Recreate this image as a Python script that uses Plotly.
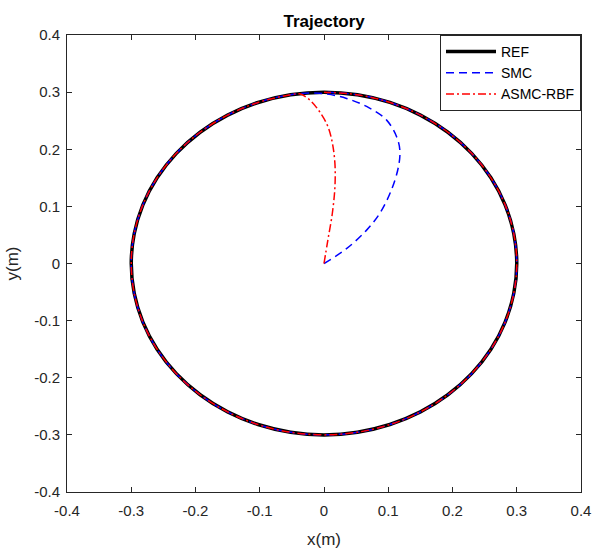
import plotly.graph_objects as go

# Reference circle (radius 0.3 m), starting at top, counter-clockwise
circle_x = [0.0, -0.0521, -0.1026, -0.150, -0.1928, -0.2298, -0.2598, -0.2819, -0.2954, -0.300,
            -0.2954, -0.2819, -0.2598, -0.2298, -0.1928, -0.150, -0.1026, -0.0521, 0.0,
            0.0521, 0.1026, 0.150, 0.1928, 0.2298, 0.2598, 0.2819, 0.2954, 0.300,
            0.2954, 0.2819, 0.2598, 0.2298, 0.1928, 0.150, 0.1026, 0.0521, 0.0]
circle_y = [0.300, 0.2954, 0.2819, 0.2598, 0.2298, 0.1928, 0.150, 0.1026, 0.0521, 0.0,
            -0.0521, -0.1026, -0.150, -0.1928, -0.2298, -0.2598, -0.2819, -0.2954, -0.300,
            -0.2954, -0.2819, -0.2598, -0.2298, -0.1928, -0.150, -0.1026, -0.0521, 0.0,
            0.0521, 0.1026, 0.150, 0.1928, 0.2298, 0.2598, 0.2819, 0.2954, 0.300]

# SMC transient from origin to the circle
smc_x = [0.0, 0.035, 0.066, 0.087, 0.105, 0.116, 0.118, 0.113, 0.0975, 0.071, 0.035, -0.007]
smc_y = [0.0, 0.026, 0.058, 0.088, 0.129, 0.170, 0.199, 0.222, 0.251, 0.272, 0.289, 0.298]

# ASMC-RBF transient from origin to the circle
asmc_x = [0.0, 0.006, 0.013, 0.017, 0.017, 0.013, 0.006, -0.007, -0.022, -0.038]
asmc_y = [0.0, 0.041, 0.088, 0.134, 0.175, 0.211, 0.240, 0.266, 0.286, 0.297]

tick_vals = [-0.4, -0.3, -0.2, -0.1, 0, 0.1, 0.2, 0.3, 0.4]
tick_text = ["-0.4", "-0.3", "-0.2", "-0.1", "0", "0.1", "0.2", "0.3", "0.4"]

ink = "#262626"
font_family = "Liberation Sans, Arial, sans-serif"

fig = go.Figure()
fig.add_trace(go.Scatter(x=circle_x, y=circle_y, mode="lines", name="REF",
                         line=dict(color="black", width=3.5, shape="spline")))
fig.add_trace(go.Scatter(x=smc_x + circle_x[1:], y=smc_y + circle_y[1:], mode="lines", name="SMC",
                         line=dict(color="#0000ff", width=1.5, dash="8px,5px", shape="spline")))
fig.add_trace(go.Scatter(x=asmc_x + circle_x[1:], y=asmc_y + circle_y[1:], mode="lines", name="ASMC-RBF",
                         line=dict(color="#ff0000", width=1.5, dash="8px,3px,2px,3px", shape="spline")))

axis_common = dict(
    tickmode="array", tickvals=tick_vals, ticktext=tick_text,
    range=[-0.4, 0.4], showgrid=False, zeroline=False, automargin=False,
    showline=True, linecolor=ink, linewidth=1, mirror="ticks",
    ticks="inside", ticklen=5, tickwidth=1, tickcolor=ink,
    tickfont=dict(family=font_family, size=15, color=ink),
)

fig.update_layout(
    width=592, height=550,
    margin=dict(l=67, r=11, t=35, b=58),
    paper_bgcolor="white", plot_bgcolor="white",
    title=dict(text="<b>Trajectory</b>", x=0.5475, xanchor="center", y=0.972, yanchor="top",
               font=dict(family=font_family, size=17, color="black")),
    xaxis=dict(**axis_common, ticklabelstandoff=5,
               title=dict(text="x(m)", font=dict(family=font_family, size=17, color=ink), standoff=15)),
    yaxis=dict(**axis_common, ticklabelstandoff=3,
               title=dict(text="y(m)", font=dict(family=font_family, size=17, color=ink), standoff=11)),
    legend=dict(x=1, y=1, xanchor="right", yanchor="top", bgcolor="white",
                bordercolor=ink, borderwidth=1,
                font=dict(family=font_family, size=14, color="black"),
                itemwidth=50, tracegroupgap=0),
    showlegend=True,
)

fig.write_html("out.html")
